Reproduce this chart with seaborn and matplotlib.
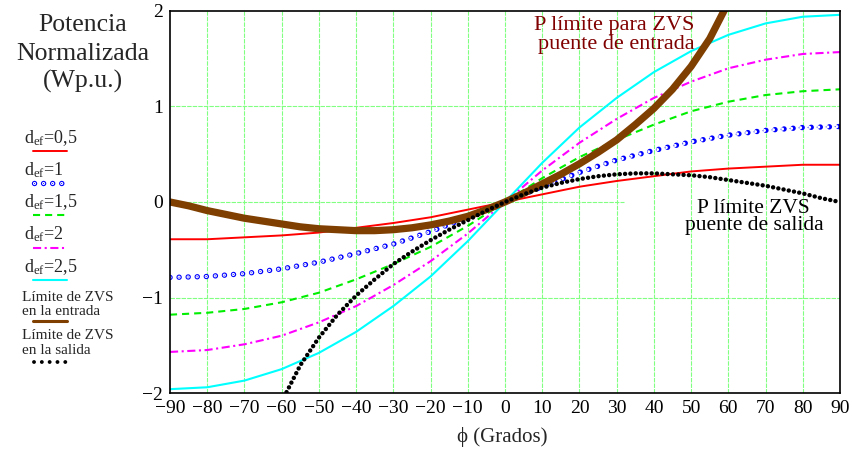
import matplotlib
matplotlib.use("Agg")
import matplotlib.pyplot as plt
import seaborn as sns

# phase shift (degrees) and normalized power for each duty d_ef
phi = [-90, -80, -70, -60, -50, -40, -30, -20, -10, 0,
       10, 20, 30, 40, 50, 60, 70, 80, 90]
p_d05 = [-0.39, -0.39, -0.37, -0.35, -0.32, -0.27, -0.22, -0.16, -0.08, 0.0,
         0.08, 0.16, 0.22, 0.27, 0.32, 0.35, 0.37, 0.39, 0.39]
p_d1 = [-0.79, -0.78, -0.75, -0.70, -0.63, -0.54, -0.44, -0.31, -0.16, 0.0,
        0.16, 0.31, 0.44, 0.54, 0.63, 0.70, 0.75, 0.78, 0.79]
p_d15 = [-1.18, -1.16, -1.12, -1.05, -0.95, -0.81, -0.65, -0.47, -0.25, 0.0,
         0.25, 0.47, 0.65, 0.81, 0.95, 1.05, 1.12, 1.16, 1.18]
p_d2 = [-1.57, -1.55, -1.49, -1.40, -1.26, -1.09, -0.87, -0.62, -0.33, 0.0,
        0.33, 0.62, 0.87, 1.09, 1.26, 1.40, 1.49, 1.55, 1.57]
p_d25 = [-1.96, -1.94, -1.87, -1.75, -1.58, -1.36, -1.09, -0.78, -0.41, 0.0,
         0.41, 0.78, 1.09, 1.36, 1.58, 1.75, 1.87, 1.94, 1.96]

# ZVS limit of the input bridge
phi_in = [-90, -85, -80, -75, -70, -65, -60, -55, -50, -45, -40, -35, -30, -25,
          -20, -15, -10, -5, 0, 5, 10, 15, 20, 25, 30, 35, 40, 45, 50, 55, 60]
p_lim_in = [0.0, -0.04, -0.09, -0.13, -0.17, -0.20, -0.23, -0.26, -0.28, -0.29,
            -0.30, -0.30, -0.29, -0.27, -0.24, -0.20, -0.15, -0.08, 0.0,
            0.09, 0.19, 0.29, 0.40, 0.52, 0.65, 0.81, 0.98, 1.18, 1.42, 1.71, 2.09]

# ZVS limit of the output bridge
phi_out = [-60, -55, -50, -45, -40, -35, -30, -25, -20, -15, -10, -5, 0,
           5, 10, 15, 20, 25, 30, 35, 40, 45, 50, 55, 60, 65, 70, 75, 80, 85, 90]
p_lim_out = [-2.09, -1.71, -1.42, -1.18, -0.98, -0.81, -0.65, -0.52, -0.40, -0.29,
             -0.19, -0.09, 0.0, 0.08, 0.15, 0.20, 0.24, 0.27, 0.29, 0.30, 0.30,
             0.29, 0.28, 0.26, 0.23, 0.20, 0.17, 0.13, 0.09, 0.04, 0.0]

y_ticks = [-2, -1, 0, 1, 2]

RED, BLUE, GREEN, MAGENTA, CYAN = "#ff0000", "#0000ff", "#00ee00", "#ff00ff", "#00ffff"
BROWN = "#7f3f00"
GRID = "#80ff80"

sns.set_theme(style="white")
plt.rcParams["font.family"] = ["Liberation Serif", "DejaVu Serif"]
plt.rcParams["mathtext.fontset"] = "custom"
plt.rcParams["mathtext.rm"] = "Liberation Serif"
plt.rcParams["mathtext.it"] = "Liberation Serif:italic"

fig = plt.figure(figsize=(8.53, 4.5), dpi=100)
fig.patch.set_facecolor("white")
ax = fig.add_axes([170 / 853, 57 / 450, 670 / 853, 382 / 450])

# dash patterns (in units of line width)
GREEN_DASH = (0, (3.4, 2.4))
MAG_DASHDOT = (0, (3.9, 1.7, 1.0, 1.7))


def ring_style(step):
    # open circles with a centre dot, built from three round-cap dotted lines
    return [(BLUE, 3.9, (0, (0.01, step / 3.9))),
            ("white", 2.3, (0, (0.01, step / 2.3))),
            (BLUE, 0.8, (0, (0.01, step / 0.8)))]


def minus(v):
    return str(v).replace("-", "\u2212")


# grid
for xv in phi[1:-1]:
    ax.axvline(xv, color=GRID, lw=0.8, ls=(0, (4, 1)), zorder=0)
ax.axhline(1, color=GRID, lw=0.8, ls=(0, (4, 1)), zorder=0)
ax.axhline(-1, color=GRID, lw=0.8, ls=(0, (4, 1)), zorder=0)
ax.hlines(0, -90, 32, color=GRID, lw=0.8, ls=(0, (4, 1)), zorder=0)

sns.lineplot(x=phi, y=p_d05, ax=ax, color=RED, lw=1.4, legend=False)
for c, w, ls in ring_style(6.5):
    sns.lineplot(x=phi, y=p_d1, ax=ax, color=c, lw=w, linestyle=ls,
                 dash_capstyle="round", legend=False)
sns.lineplot(x=phi, y=p_d15, ax=ax, color=GREEN, lw=1.5, linestyle=GREEN_DASH, legend=False)
sns.lineplot(x=phi, y=p_d2, ax=ax, color=MAGENTA, lw=1.5, linestyle=MAG_DASHDOT, legend=False)
sns.lineplot(x=phi, y=p_d25, ax=ax, color=CYAN, lw=1.5, legend=False)
sns.lineplot(x=phi_in, y=p_lim_in, ax=ax, color=BROWN, lw=5.2, legend=False,
             solid_capstyle="round")
sns.lineplot(x=phi_out, y=p_lim_out, ax=ax, color="black", lw=3.2,
             linestyle=(0, (0.01, 3.8 / 3.2)), dash_capstyle="round", legend=False)

ax.set_xlim(-90, 90)
ax.set_ylim(-2, 2)
ax.set_xticks(phi)
ax.set_yticks(y_ticks)
ax.set_xticklabels([minus(v) for v in phi])
ax.set_yticklabels([minus(v) for v in y_ticks])
ax.tick_params(length=0, labelsize=14, pad=5, colors="black")
ax.set_xlabel("")
ax.set_ylabel("")
for s in ax.spines.values():
    s.set_visible(True)
    s.set_color("black")
    s.set_linewidth(1.2)

ax.text(29.4, 1.80, "P límite para ZVS", color="#800000", fontsize=16, ha="center", va="baseline")
ax.text(30.0, 1.60, "puente de entrada", color="#800000", fontsize=16, ha="center", va="baseline")
ax.text(66.8, -0.11, "P límite ZVS", color="black", fontsize=15.5, ha="center", va="baseline")
ax.text(67.0, -0.29, "puente de salida", color="black", fontsize=15.5, ha="center", va="baseline")

# overlay in pixel coordinates for the axis title and the legend
ov = fig.add_axes([0, 0, 1, 1])
ov.set_xlim(0, 853)
ov.set_ylim(450, 0)
ov.axis("off")

ov.text(502, 442, "ϕ (Grados)", fontsize=15, ha="center", va="baseline")
for txt, yb in [("Potencia", 31), ("Normalizada", 60), ("(Wp.u.)", 88)]:
    ov.text(83, yb, txt, fontsize=18.5, ha="center", va="baseline")

leg_labels = ["0,5", "1", "1,5", "2", "2,5"]
leg_text_y = [143, 175, 207, 239, 272]
leg_line_y = [150.7, 182.7, 215, 247.7, 280]
for lab, ty in zip(leg_labels, leg_text_y):
    ov.text(24, ty, r"d$_{\rm ef}$=" + lab, fontsize=13, ha="left", va="baseline")
ov.plot([33, 67], [leg_line_y[0]] * 2, color=RED, lw=1.4)
for c, w, ls in ring_style(6.5):
    ov.plot([34, 62], [leg_line_y[1]] * 2, color=c, lw=w, linestyle=ls, dash_capstyle="round")
ov.plot([33, 66], [leg_line_y[2]] * 2, color=GREEN, lw=1.5, linestyle=GREEN_DASH)
ov.plot([33, 66], [leg_line_y[3]] * 2, color=MAGENTA, lw=1.5, linestyle=MAG_DASHDOT)
ov.plot([33, 67], [leg_line_y[4]] * 2, color=CYAN, lw=1.5)

ov.text(22, 301, "Límite de ZVS", fontsize=11, ha="left", va="baseline")
ov.text(22, 315, "en la entrada", fontsize=11, ha="left", va="baseline")
ov.plot([33, 67], [321, 321], color=BROWN, lw=2.2)
ov.text(22, 339, "Límite de ZVS", fontsize=11, ha="left", va="baseline")
ov.text(22, 354, "en la salida", fontsize=11, ha="left", va="baseline")
ov.plot([34, 73], [362, 362], color="black", lw=2.8,
        linestyle=(0, (0.01, 5.6 / 2.8)), dash_capstyle="round")

fig.savefig("out.png", dpi=100, facecolor="white")
